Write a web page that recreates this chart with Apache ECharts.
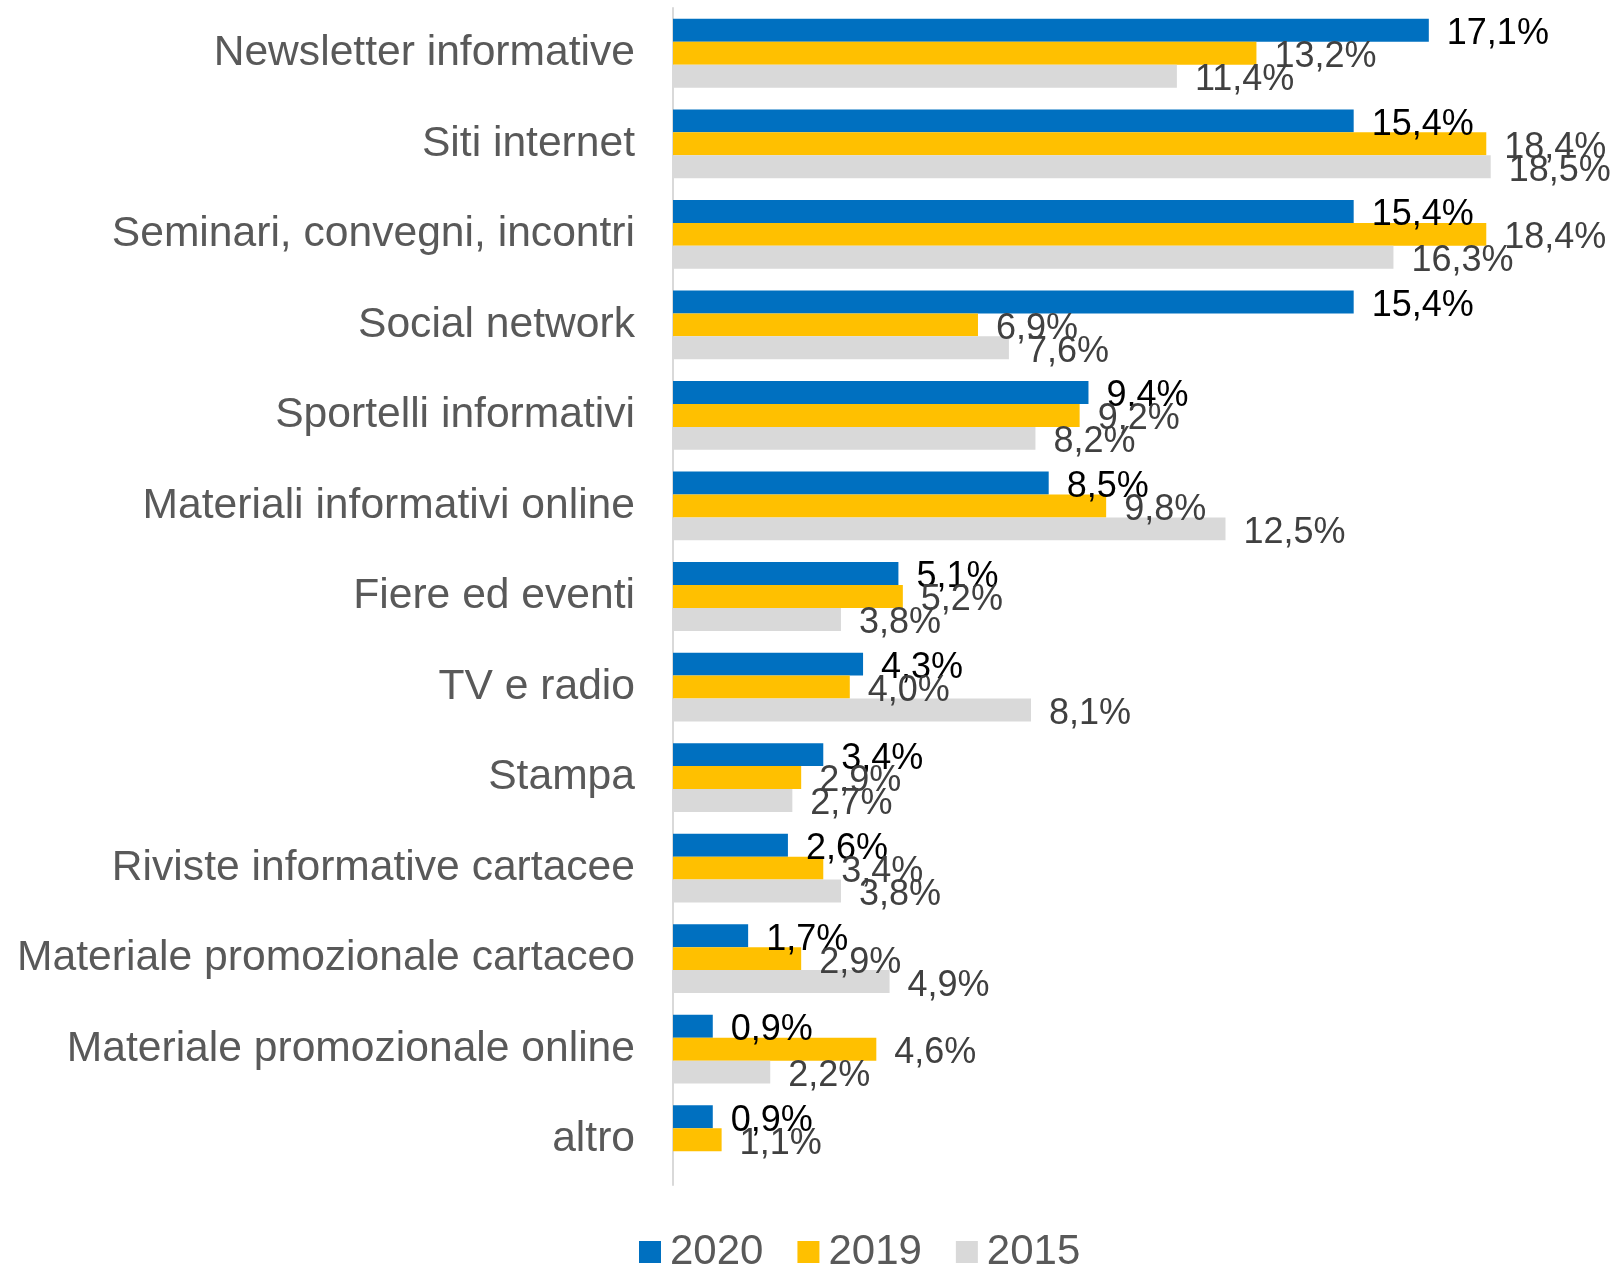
<!DOCTYPE html>
<html>
<head>
<meta charset="utf-8">
<script src="https://cdn.jsdelivr.net/npm/echarts@6/dist/echarts.min.js"></script>
<style>
html,body{margin:0;padding:0;background:#fff;}
#chart{width:1616px;height:1265px;}
</style>
</head>
<body>
<div id="chart"></div>
<script>
const categories = [
  "Newsletter informative",
  "Siti internet",
  "Seminari, convegni, incontri",
  "Social network",
  "Sportelli informativi",
  "Materiali informativi online",
  "Fiere ed eventi",
  "TV e radio",
  "Stampa",
  "Riviste informative cartacee",
  "Materiale promozionale cartaceo",
  "Materiale promozionale online",
  "altro"
];
const values2020 = [17.1, 15.4, 15.4, 15.4, 9.4, 8.5, 5.1, 4.3, 3.4, 2.6, 1.7, 0.9, 0.9];
const values2019 = [13.2, 18.4, 18.4, 6.9, 9.2, 9.8, 5.2, 4.0, 2.9, 3.4, 2.9, 4.6, 1.1];
const values2015 = [11.4, 18.5, 16.3, 7.6, 8.2, 12.5, 3.8, 8.1, 2.7, 3.8, 4.9, 2.2, null];
const seriesNames = ["2020", "2019", "2015"];

const FONT = "'Liberation Sans', Arial, sans-serif";
const fmt = p => (p.value == null ? '' : p.value.toFixed(1).replace('.', ',') + '%');

function mkSeries(name, data, color, labelColor) {
  return {
    name: name,
    type: 'bar',
    data: data,
    barGap: '0%',
    barCategoryGap: '24%',
    itemStyle: { color: color },
    label: {
      show: true,
      position: 'right',
      distance: 18,
      offset: [0, 4],
      formatter: fmt,
      color: labelColor,
      fontSize: 36,
      fontFamily: FONT
    },
    emphasis: { disabled: true },
    animation: false
  };
}

const chart = echarts.init(document.getElementById('chart'), null, { renderer: 'canvas' });
chart.setOption({
  backgroundColor: '#ffffff',
  animation: false,
  textStyle: { fontFamily: FONT },
  legend: {
    data: seriesNames,
    left: 634,
    top: 1226,
    itemWidth: 22,
    itemHeight: 22,
    itemGap: 34,
    icon: 'rect',
    textStyle: { fontSize: 42, color: '#595959', fontFamily: FONT, padding: [0, 0, 0, 4] }
  },
  grid: { left: 673, right: 59, top: 8, bottom: 80, containLabel: false },
  xAxis: {
    type: 'value',
    min: 0,
    max: 20,
    show: false,
    splitLine: { show: false }
  },
  yAxis: {
    type: 'category',
    data: categories,
    inverse: true,
    axisLine: { show: true, lineStyle: { color: '#d9d9d9', width: 2 } },
    axisTick: { show: false },
    axisLabel: { fontSize: 42.6, color: '#595959', fontFamily: FONT, margin: 38, padding: [7, 0, 0, 0] }
  },
  series: [
    mkSeries(seriesNames[0], values2020, '#0070C0', '#000000'),
    mkSeries(seriesNames[1], values2019, '#FFC000', '#404040'),
    mkSeries(seriesNames[2], values2015, '#D9D9D9', '#404040')
  ]
});
</script>
</body>
</html>
